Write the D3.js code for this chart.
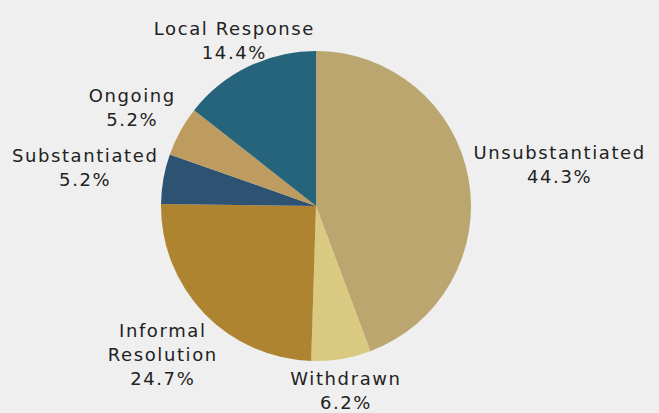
<!DOCTYPE html>
<html>
<head>
<meta charset="utf-8">
<script src="https://cdn.jsdelivr.net/npm/d3@7"></script>
<style>
  html, body { margin: 0; padding: 0; background: #efefef; }
  svg { display: block; }
  .lbl { font-family: "DejaVu Sans", sans-serif; font-size: 18px; letter-spacing: 1.6px; fill: #222; }
</style>
</head>
<body>
<svg id="canvas"></svg>
<script>
var canvas_width = 659, canvas_height = 413;

// data, clockwise from 12 o'clock
var categories = ['Unsubstantiated', 'Withdrawn', 'Informal Resolution', 'Substantiated', 'Ongoing', 'Local Response'];
var labelLines = [['Unsubstantiated'], ['Withdrawn'], ['Informal', 'Resolution'], ['Substantiated'], ['Ongoing'], ['Local Response']];
var shares = [44.3, 6.2, 24.7, 5.2, 5.2, 14.4];
var colors = ['#bba66f', '#d9c981', '#af8430', '#2d5272', '#be9c5f', '#26647c'];

var pie_chart = {};

// ************************************************************************************** //
// Create

pie_chart.create = function(){
  pie_chart.radius = 155;
  pie_chart.cx = 316, pie_chart.cy = 206;

  var svg = d3.select('#canvas');
  svg.attr('width', canvas_width).attr('height', canvas_height);
  svg.append('rect').attr('width', canvas_width).attr('height', canvas_height).attr('fill', '#efefef');

  pie_chart.origin = svg.append('g').attr('transform', 'translate(' + pie_chart.cx + ',' + pie_chart.cy + ')');

  var data = categories.map((c, i) => ({ name: c, lines: labelLines[i], value: shares[i], color: colors[i] }));
  var pieGen = d3.pie().value(d => d.value).sort(null);
  var arcs = pieGen(data);
  var arcGen = d3.arc().innerRadius(0).outerRadius(pie_chart.radius);

  pie_chart.origin.selectAll('path.slice').data(arcs).enter().append('path')
    .attr('class', 'slice')
    .attr('d', arcGen)
    .attr('fill', d => d.data.color)
    .attr('stroke', 'none');

  // labels sit just outside the rim, the text box touching the point on the mid angle
  var lineH = 24;
  var labelR = pie_chart.radius + 5;
  arcs.forEach(function(a){
    var mid = (a.startAngle + a.endAngle) / 2;
    var dx = Math.sin(mid), dy = -Math.cos(mid);
    var lines = a.data.lines.concat([a.data.value.toFixed(1) + '%']);
    var g = pie_chart.origin.append('g');
    var t = g.append('text').attr('class', 'lbl').attr('text-anchor', 'middle');
    lines.forEach(function(s, i){
      t.append('tspan').attr('x', 0).attr('y', i * lineH).text(s);
    });
    var bb = t.node().getBBox();
    var w = bb.width, h = lines.length * lineH;
    var tt = Math.min(Math.abs(dx) > 1e-6 ? w / 2 / Math.abs(dx) : Infinity,
                      Math.abs(dy) > 1e-6 ? h / 2 / Math.abs(dy) : Infinity);
    var ccx = labelR * dx + tt * dx, ccy = labelR * dy + tt * dy;
    // text baseline of first line relative to box centre
    var y0 = ccy - h / 2 + lineH * 0.86;
    g.attr('transform', 'translate(' + ccx + ',' + y0 + ')');
  });
}

pie_chart.create();
</script>
</body>
</html>
